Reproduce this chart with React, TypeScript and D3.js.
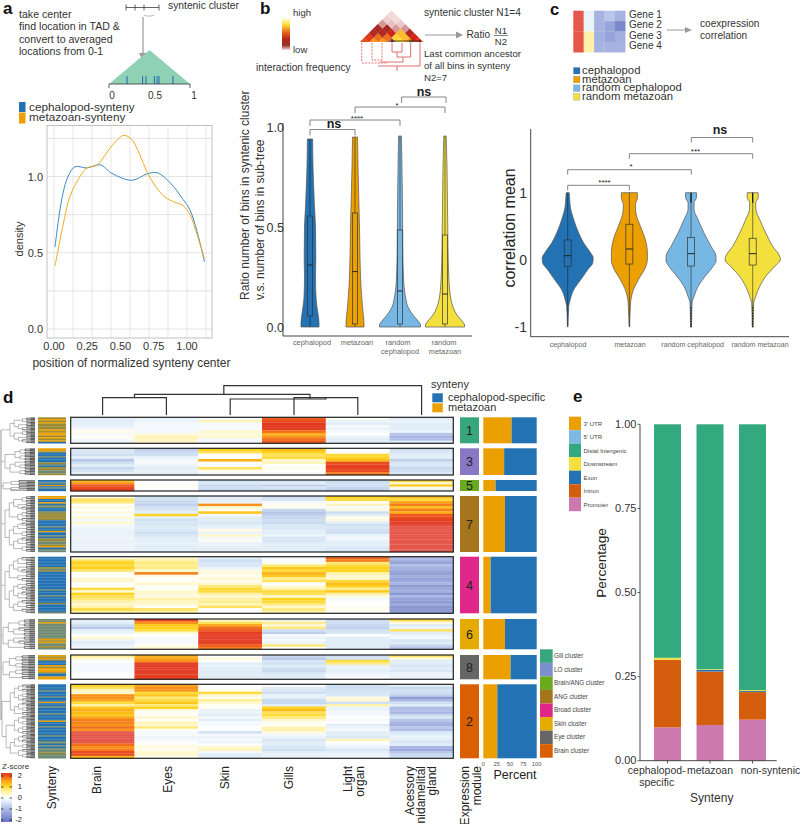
import React from "react";
import * as d3 from "d3";

const FONT = "'Liberation Sans', Arial, sans-serif";
const BLUE = "#2272B4";
const ORANGE = "#EBA000";
const LIGHTBLUE = "#77B7E3";
const YELLOW = "#F3E03D";

// panel a
const setupLines = ["take center", "find location in TAD &", "convert to averaged", "locations from 0-1"];
const tadBins = [0.222, 0.414, 0.457, 0.56, 0.593, 0.617, 0.79];
const densTicks = [0, 0.25, 0.5, 0.75, 1];
const densGridX = [0, 1 / 7, 2 / 7, 3 / 7, 4 / 7, 5 / 7, 6 / 7, 1, 8 / 7];
const densGridY = [0, 0.25, 0.5, 0.75, 1, 1.25];
const blueCurveX = [55, 59, 63, 68, 75, 87, 100, 112, 132, 147, 157, 170, 183, 190, 197, 204.5];
const blueCurveY = [0.537, 0.74, 0.89, 1.0, 1.064, 1.056, 1.077, 1.02, 0.975, 1.017, 1.025, 0.96, 0.85, 0.78, 0.64, 0.44];
const orangeCurveX = [55, 63, 70, 80, 87, 97, 105, 115, 124, 132, 140, 147, 155, 165, 175, 183, 190, 197, 204.5];
const orangeCurveY = [0.413, 0.68, 0.87, 1.0, 1.056, 1.075, 1.14, 1.225, 1.27, 1.24, 1.14, 1.03, 0.94, 0.865, 0.83, 0.81, 0.75, 0.62, 0.46];

// panel b
const interactionRows = [
  [0.55, 0.72, 0.72, 0.2, 0.98, 0.75, 0.5],
  [0.5, 0.62, 0.62, 0.95, 0.85, 0.45],
  [0.3, 0.3, 0.42, 0.85, 0.3],
  [0.25, 0.25, 0.14, 0.14],
  [0.14, 0.1, 0.08],
  [0.06, 0.03],
  [0.03],
];
const violinCats = ["cephalopod", "metazoan", "random cephalopod", "random metazoan"];
const violinColors = [BLUE, ORANGE, LIGHTBLUE, YELLOW];
const ratioShapes = [
  [[0, 9], [0.02, 9], [0.05, 8.5], [0.1, 7], [0.15, 6], [0.25, 5.5], [0.35, 5.8], [0.5, 5.5], [0.6, 4.5], [0.7, 3.7], [0.8, 3], [0.94, 2.6]],
  [[0, 9], [0.02, 9], [0.05, 8.5], [0.1, 7.5], [0.2, 6], [0.35, 5], [0.5, 4.5], [0.6, 4], [0.7, 3.5], [0.8, 3], [0.95, 2.5]],
  [[0, 20.5], [0.01, 20.5], [0.03, 18], [0.06, 13], [0.1, 8], [0.15, 5.5], [0.25, 3.5], [0.4, 2.8], [0.6, 2.5], [0.8, 2], [0.955, 1.4]],
  [[0, 19.5], [0.01, 19.5], [0.03, 17], [0.06, 12], [0.1, 8], [0.15, 5.5], [0.25, 3.8], [0.4, 3], [0.6, 2.5], [0.8, 2], [0.955, 1.2]],
];
const ratioBoxes = [
  [0.055, 0.31, 0.555],
  [0.015, 0.277, 0.57],
  [0.015, 0.18, 0.485],
  [0.015, 0.165, 0.46],
];

// panel c
const geneNames = ["Gene 1", "Gene 2", "Gene 3", "Gene 4"];
const geneZ = [
  [2.3, -0.2, -1.05, -0.8, -1.05],
  [2.3, -0.2, -1.05, -1.25, -1.7],
  [2.3, 0.5, -1.1, -1.3, -1.1],
  [2.3, 0.5, -1.05, -1.05, -1.05],
];
const corrShapes = [
  [[1, 1.5], [0.9, 2], [0.8, 2.5], [0.6, 6], [0.4, 11], [0.25, 16], [0.1, 23], [0.03, 25.5], [-0.05, 25], [-0.15, 20], [-0.3, 13], [-0.45, 6], [-0.6, 2.5], [-0.7, 1], [-1, 0.3]],
  [[1, 8], [0.92, 8], [0.82, 6], [0.7, 6.5], [0.5, 11], [0.3, 16], [0.1, 18], [0, 18], [-0.1, 16.5], [-0.3, 9], [-0.45, 4], [-0.6, 1.5], [-0.7, 1], [-1, 0.3]],
  [[1, 5.5], [0.93, 5.5], [0.85, 3], [0.75, 3], [0.6, 7], [0.4, 13], [0.2, 20], [0.05, 25], [-0.02, 25], [-0.1, 22], [-0.25, 14], [-0.4, 7], [-0.55, 3], [-0.65, 1], [-1, 0.5]],
  [[1, 5.5], [0.93, 5.5], [0.85, 3], [0.75, 3.2], [0.6, 7], [0.4, 13], [0.2, 20], [0.05, 27], [0, 27.7], [-0.1, 22], [-0.25, 13], [-0.4, 7], [-0.55, 3], [-0.65, 1], [-1, 0.5]],
];
const corrBoxes = [
  [-0.1, 0.06, 0.295],
  [-0.065, 0.16, 0.53],
  [-0.095, 0.09, 0.33],
  [-0.08, 0.09, 0.32],
];
const corrOutliers = [-0.72, -0.76, -0.8, -0.84, -0.88, -0.92, -0.96, -1];

// panel d: z-score colours, one list of stripes per tissue per block
const zStops = [-2, -1, -0.5, -0.2, 0, 0.3, 0.7, 1, 1.4, 1.8, 2.05, 2.3];
const zColors = ["#6676BE", "#A9B6E3", "#CFE0F2", "#EAF3FA", "#FFFFFF", "#FFF8CF", "#FFE97A", "#FFD21E", "#FBA41A", "#EE5A1E", "#E2381F", "#E5574A"];
const zColor = d3.scaleLinear<string>().domain(zStops).range(zColors).clamp(true);
const tissues = ["Brain", "Eyes", "Skin", "Gills", "Light organ", "ANG"];

const block1 = [
  [-0.3, -0.3, -0.3, -0.2, -0.1, 0.15, -0.1, 0.1, -0.1, -0.2],
  [-0.2, -0.2, -0.1, -0.1, -0.1, -0.1, 0.2, 0.4, 0.4, 0.3],
  [-0.1, 0.4, -0.1, -0.1, -0.1, 0.3, 0.2, 0.3, -0.1, -0.1],
  [1.8, 1.9, 2.05, 2.05, 2, 1.7, 1.3, 1.5, 1.7, 1.8],
  [0.1, -0.2, -0.3, -0.1, -0.2, -0.1, 0, -0.2, -0.3, -0.3],
  [-0.3, -0.2, -0.3, -0.3, -0.3, -0.2, -0.8, -1, -0.9, -0.3],
];
const block3 = [
  [-0.4, -0.4, -0.5, -0.3, -0.8, -0.5, -0.3, -0.6, -0.4, -0.3],
  [-0.7, -0.6, -0.5, -0.2, -0.1, -0.1, -0.2, -0.3, -0.2, -0.3],
  [1, 0.8, 0, 0, 1.3, -0.05, -0.1, 0.8, 0.1, -0.1],
  [1.2, 1, 0.8, 0.9, 0.3, 0.4, 0, 0.1, 0, -0.1],
  [0, 0, 0.9, 1, 1.2, 1.9, 2, 2, 1.9, 1.6],
  [-0.5, -0.4, -0.3, -0.3, -0.7, -0.4, -0.4, -0.6, -0.5, -0.4],
];
const block5 = [
  [1.2, 1.5, 1.8, 1.9, 2.0],
  [0, 0, 0.1, 0, -0.05],
  [-0.5, -0.4, -0.6, -0.5, -0.6],
  [-0.5, -0.3, -0.7, -0.4, -0.6],
  [-0.6, -0.5, -0.5, -0.6, -0.7],
  [0.9, 0.3, 1.1, 0.2, -0.2],
];
const block7 = [
  [0.2, 0.8, 0.7, 0.05, 0.2, 0.05, 0.2, -0.05, 0.3, -0.1, 0.3, -0.1, -0.15, -0.2, -0.2, -0.2, -0.15, -0.2, -0.2, -0.2, -0.2, -0.2],
  [-0.5, -0.5, -0.6, -0.7, -0.5, -0.4, -0.3, 1, -0.3, -0.5, -0.4, -0.4, -0.3, -0.4, -0.5, -0.4, -0.3, -0.3, -0.2, -0.3, -0.3, -0.3],
  [-0.3, -0.3, -0.2, 1.5, 0.3, 0.1, 1.1, -0.1, -0.3, -0.3, -0.4, -0.3, -0.2, 0.2, -0.2, 0.3, -0.1, 0.1, -0.2, -0.2, -0.3, -0.3],
  [-0.5, -0.4, -0.1, 0.1, 0.1, -0.6, -0.8, -0.7, -0.6, -0.5, -0.6, -0.4, -0.4, -0.3, -0.3, -0.2, -0.4, -0.4, -0.3, -0.3, -0.3, -0.3],
  [1, 0.9, 0.1, 0.4, -0.1, 0.2, -0.5, -0.3, 0.1, 0.2, -0.3, -0.5, -0.4, -0.5, -0.5, -0.2, -0.1, -0.2, -0.3, -0.3, -0.4, -0.4],
  [1.2, 0.9, 1.4, 1.6, 1.2, 1.6, 1.3, 1.8, 1.9, 2, 2.1, 2.2, 2.3, 2.3, 2.3, 2.3, 2.3, 2.3, 2.3, 2.3, 2.3, 2.3],
];
const block4 = [
  [0.1, 0.8, 1, 0.9, 1, 0.7, 0.05, 0, 0.3, 0.3, 0, 0, 0.9, 0.3, 1, 0.8, 0.7, 0.5, 0.3, 0.5, 0.9, 0.5],
  [0.3, 0.5, 0.7, 0.6, 0.6, 0.3, 1.6, 0.2, 0, 0.1, 0.3, 0.1, -0.05, 0.3, 0.3, 0.2, 0.5, 0.4, 0.3, 0.1, 0.8, 0.5],
  [-0.3, -0.5, -0.4, -0.4, -0.2, 0.2, 0.2, 0.1, 0.3, 0.1, 0.3, 0.7, 0.9, 0.9, 0.5, 0.3, 0.5, 0.6, 0.4, 0.8, 0, 0],
  [-0.1, -0.05, 0.1, 0.7, 1.1, 0.9, 1.3, 1.1, 0.6, 0.8, 0, 0.2, 0.5, 0.9, 0.8, 0.3, 1, 0.9, 0.7, 0.3, 0.7, 0.5],
  [1.7, 1.6, 0.7, 0.9, 1, 1, 0.5, 0.3, 0.3, 0.9, 1.2, 1, 0.6, 1.1, 0.5, 0.2, -0.1, 0, 0, 0.1, 0.1, 0],
  [-1, -1.1, -1.3, -0.9, -1.1, -1.2, -1.4, -1.1, -1.3, -1.2, -1, -1.4, -1.2, -1.1, -1.5, -1, -1.3, -1.4, -1.2, -1.5, -1.5, -1.4],
];
const block6 = [
  [-0.3, -0.3, -0.5, -0.8, -0.3, -0.2, 0, 0.3, -0.2, -0.3, -0.2, -0.1],
  [2, 1.5, 1.1, 1, 0.9, 0.3, 0, -0.1, -0.1, -0.1, 0.1, 0.3],
  [0.3, 0.8, 1.4, 1.7, 1.8, 2, 2.1, 2.1, 2.1, 2, 1.8, 1.6],
  [-0.2, 0.6, 0.3, 0.7, -0.5, -0.7, -0.1, -0.2, -0.1, -0.2, 0.7, 0],
  [-0.6, -0.5, -0.6, -0.7, -0.5, -0.4, 0, -0.3, -0.3, -0.3, -0.3, -0.3],
  [0.9, 0.2, -0.3, -0.2, 0.8, -0.3, -0.2, -0.1, -0.4, -0.3, -0.6, -0.8],
];
const block8 = [
  [0.6, 0.3, -0.05, -0.1, -0.1, -0.1, -0.1, -0.05, 0, 0],
  [1.3, 1.4, 1.5, 2, 2.1, 2.1, 2.1, 2.1, 2, 2],
  [0, 0.2, 0, -0.3, -0.2, -0.3, -0.3, -0.3, -0.3, -0.3],
  [-0.6, -0.8, -0.4, -0.5, -0.3, -0.5, -0.6, -0.4, -0.3, -0.3],
  [-0.5, -0.5, 0.9, 0.7, -0.2, -0.2, -0.3, -0.2, -0.1, -0.1],
  [0.8, 0.2, -0.3, -0.3, -0.4, -0.3, -0.4, -0.2, -0.2, -0.2],
];
const block2 = [
  [1, 0.8, 0.4, 0.3, 1.5, 1.5, 1.4, 0.9, 0.5, 1.1, 1.3, 1.2, 1.1, 1.4, 1.6, 1.6, 1.5, 1.7, 1.5, 2.3, 2.3, 2.3, 2.3, 2.3, 1.7, 1.5, 1.6, 1.9, 1.9, 1.2],
  [1.4, 1.5, 1.5, 0.9, 1.1, 0.7, 0.9, 1.1, 0.7, 1, 0.2, 0.05, 0.1, 0.3, 0.05, 0.4, 0.3, 0.7, 0.1, -0.1, -0.1, -0.2, -0.1, -0.05, 0.1, 0.2, 0.1, 0.3, 0.3, 0.1],
  [0, 0.05, 0.1, 0.9, 0.3, 0.1, 0.6, 0.3, 0.1, 0.05, -0.2, -0.2, -0.3, -0.1, -0.3, -0.1, -0.1, -0.05, -0.05, -0.5, -0.1, -0.2, -0.1, -0.2, 0, 0.3, 0.4, -0.1, -0.3, -0.3],
  [0, -0.3, -0.4, -0.5, -0.2, -0.3, -0.6, -0.6, -0.3, 1, 1.2, 0.8, 0.9, 0.7, 0.3, 0.1, 0.05, 0.4, 0.5, 0.2, -0.1, -0.2, -0.4, -0.3, -0.3, -0.4, -0.5, -0.3, -0.2, -0.2],
  [-0.5, -0.5, -0.5, -0.4, -0.4, 0.2, 0.3, -0.5, 0.5, -0.2, -0.2, -0.1, -0.1, 0, -0.1, 0, -0.3, -0.2, -0.1, -0.3, -0.3, -0.4, 0.4, 0, -0.1, -0.2, -0.4, -0.3, -0.2, -0.1],
  [-0.3, -0.6, -0.5, -0.5, -0.7, -1.4, -1, -0.5, -0.3, -0.9, -0.9, -1, -0.6, -0.4, -0.8, -1, -1.1, -0.8, -0.9, -0.4, -0.3, -0.2, -0.3, -0.4, -0.3, -1, -1.2, -0.8, -0.6, -0.5],
];

const synteny1 = "yoyoyyyyoyooyoyob";
const synteny3 = "oogbbgbbbygbyyggy";
const synteny5 = "bbgbobgbb";
const synteny7 = "oobbobggbbgyyyyybbbbgbbobbgbyyggyobgg";
const synteny4 = "bbbbbbbygybbbbbbbbbbbbgbbbgbbbbybbbbbg";
const synteny6 = "ggoggggggggggoyoggyg";
const synteny8 = "oyoybbboyoooybboo";
const synteny2 = "bbbbgbbbgbbbobbgbbbbgbbbbobbbgbbbbbgbbbggbgbgggyggg";

const tree1 = [[[4, 3], [4, [3, 2]]], [[3, 3], [4, [2, 3]]]];
const tree3 = [[[4, 4], [3, 4]], [[4, [3, 3]], [4, 3]]];
const tree5 = [[3, 3], [3, 2]];
const tree7 = [[[[4, 4], [4, 5]], [[4, 4], 5]], [[[5, 4], [4, 4]], [[5, 4], [4, 4]]]];
const tree4 = [[[[5, 4], [4, 5]], [4, 5]], [[[4, 5], [5, 4]], [[5, 4], 5]]];
const tree6 = [[[4, 4], [5, 4]], [[4, 5], 4]];
const tree8 = [[[4, 3], [4, 3]], [[3, 4], 4]];
const tree2 = [[[[5, 5], [6, 5]], [[5, 6], 5]], [[[5, 6], [6, 5]], [[[5, 5], 6], [5, 6]]]];

const moduleNames = ["1", "3", "5", "7", "4", "6", "8", "2"];
const moduleColors = ["#37A67C", "#8877C4", "#6AAA1E", "#A6761D", "#E0288A", "#E6AB02", "#666666", "#D95F02"];
const metazoanPercent = [53, 39, 23, 40.6, 13.75, 40.6, 51, 26.25];
const blockTops = [417.3, 448.3, 480, 496, 556.7, 619, 655, 684.3];
const blockBottoms = [443.3, 475, 491, 552, 613.3, 649.3, 679.3, 758.3];
const treeRoots = [10, 5, 3, 5, 5, 3, 3, 2];
const blockData = [block1, block3, block5, block7, block4, block6, block8, block2];
const syntenyData = [synteny1, synteny3, synteny5, synteny7, synteny4, synteny6, synteny8, synteny2];
const treeData = [tree1, tree3, tree5, tree7, tree4, tree6, tree8, tree2];
const syntenyColors: Record<string, string> = { b: BLUE, o: ORANGE, y: "#9A8A35", g: "#6E8A72" };
const clusterNames = ["Gill cluster", "LO cluster", "Brain/ANG cluster", "ANG cluster", "Broad cluster", "Skin cluster", "Eye cluster", "Brain cluster"];
const clusterColors = ["#37A67C", "#7C8FCF", "#6AAA1E", "#A6761D", "#E0288A", "#E6AB02", "#666666", "#D95F02"];
const percentTicks = [0, 25, 50, 75, 100];
const zLabels = [2, 1, 0, -1, -2];
// column dendrogram merges: left, right (in column units), height, left drop, right drop
const columnMerges = [
  [0, 1, 397.7, 415, 415],
  [3, 4, 397.7, 415, 415],
  [2, 3.5, 399, 415, 397.7],
  [0.5, 3.25, 394.3, 397.7, 399],
  [1.9, 5, 385.7, 394.3, 415],
];
const rotatedLabels = [
  { lines: ["Synteny"], xs: [52] },
  { lines: ["Brain"], xs: [97] },
  { lines: ["Eyes"], xs: [168] },
  { lines: ["Skin"], xs: [225] },
  { lines: ["Gills"], xs: [289] },
  { lines: ["Light", "organ"], xs: [348, 360] },
  { lines: ["Acessory", "nidamelital", "gland"], xs: [410, 421, 432] },
  { lines: ["Expression", "module"], xs: [465, 477] },
];

// panel e
const annotationNames = ["3' UTR", "5' UTR", "Distal Intergenic", "Downstream", "Exon", "Intron", "Promoter"];
const annotationColors = [ORANGE, "#7DB9E3", "#32A97E", YELLOW, BLUE, "#D55E0E", "#CC79B0"];
const syntenyCats = ["cephalopod-specific", "metazoan", "non-syntenic"];
const promoter = [0.099, 0.106, 0.122];
const intron = [0.201, 0.159, 0.082];
const exon = [0, 0.005, 0.003];
const downstream = [0.006, 0.002, 0.003];
const distal = [0.694, 0.728, 0.79];
const shareTicks = [0, 0.25, 0.5, 0.75, 1];

const densX = d3.scaleLinear().domain([0, 1]).range([54, 187]);
const densY = d3.scaleLinear().domain([0, 1]).range([329, 176.5]);
const tadX = d3.scaleLinear().domain([0, 1]).range([109, 190]);
const ratioX = d3.scalePoint<string>().domain(violinCats).range([310, 445]);
const ratioY = d3.scaleLinear().domain([0, 1]).range([327, 127]);
const corrX = d3.scalePoint<string>().domain(violinCats).range([567.7, 752.7]);
const corrY = d3.scaleLinear().domain([-1, 1]).range([326.7, 192.7]);
const colX = d3.scaleBand<string>().domain(tissues).range([70.7, 453.3]);
const colCenter = d3.scaleLinear().domain([0, 5]).range([102.6, 421.6]);
const pctX = d3.scaleLinear().domain([0, 100]).range([483.3, 536.7]);
const shareX = d3.scaleBand<string>().domain(syntenyCats).range([654, 766]).paddingInner(0.365);
const shareY = d3.scaleLinear().domain([0, 1]).range([760.7, 424.3]);

const Txt = ({ x, y, size = 9, anchor = "start", fill = "#333", weight = "normal", rotate, children }: any) => (
  <text
    x={x}
    y={y}
    fontSize={size}
    textAnchor={anchor}
    fill={fill}
    fontWeight={weight}
    transform={rotate ? `rotate(${rotate} ${x} ${y})` : undefined}
  >
    {children}
  </text>
);

const Bracket = ({ x1, x2, y, drop = 5, label, labelX, labelY, bold }: any) => (
  <g>
    <path d={`M${x1},${y + drop}V${y}H${x2}V${y + drop}`} fill="none" stroke="#777" strokeWidth={0.9} />
    <Txt x={labelX} y={labelY} anchor="middle" size={bold ? 12.5 : 8} weight={bold ? "bold" : "normal"} fill="#222">
      {label}
    </Txt>
  </g>
);

const Violins = ({ shapes, boxes, xScale, yScale, boxHalf }: any) => (
  <g>
    {violinCats.map((cat, i) => {
      const cx = xScale(cat);
      const area = d3
        .area<number[]>()
        .y((d) => yScale(d[0]))
        .x0((d) => cx - d[1])
        .x1((d) => cx + d[1])
        .curve(d3.curveMonotoneY);
      const sorted = [...shapes[i]].sort((a: number[], b: number[]) => a[0] - b[0]);
      const [q1, med, q3] = boxes[i];
      const top = sorted[sorted.length - 1][0];
      const bottom = sorted[0][0];
      return (
        <g key={cat}>
          <path d={area(sorted) || ""} fill={violinColors[i]} stroke="#555" strokeWidth={0.7} />
          <line x1={cx} x2={cx} y1={yScale(top)} y2={yScale(bottom)} stroke="#222" strokeWidth={0.7} strokeOpacity={0.8} />
          <rect
            x={cx - boxHalf}
            width={boxHalf * 2}
            y={yScale(q3)}
            height={yScale(q1) - yScale(q3)}
            fill={violinColors[i]}
            stroke="#333"
            strokeWidth={0.7}
          />
          <line x1={cx - boxHalf} x2={cx + boxHalf} y1={yScale(med)} y2={yScale(med)} stroke="#222" strokeWidth={1} />
        </g>
      );
    })}
  </g>
);

const expand = (t: any): any => {
  if (Array.isArray(t)) return { children: t.map(expand) };
  if (t <= 1) return {};
  const half = Math.floor(t / 2);
  return { children: [expand(half), expand(t - half)] };
};

const Dendro = ({ tree, top, bottom, rootX }: any) => {
  const root = d3.hierarchy(expand(tree));
  d3.cluster().size([bottom - top, 35 - rootX])(root as any);
  const px = (n: any) => rootX + n.y;
  const py = (n: any) => top + n.x;
  return (
    <g fill="none">
      {root.links().map((l: any, i: number) => (
        <path
          key={i}
          d={`M${px(l.source)},${py(l.source)}V${py(l.target)}H${px(l.target)}`}
          stroke={l.target.height < 2 ? "#333" : "#8A8A8A"}
          strokeWidth={l.target.height < 2 ? 0.7 : 0.6}
        />
      ))}
      <line x1={1} x2={rootX} y1={py(root)} y2={py(root)} stroke="#999" strokeWidth={0.6} />
    </g>
  );
};

const PanelA = () => {
  const blueLine = d3
    .line<number>()
    .x((d) => d)
    .y((_, i) => densY(blueCurveY[i]))
    .curve(d3.curveCatmullRom);
  const orangeLine = d3
    .line<number>()
    .x((d) => d)
    .y((_, i) => densY(orangeCurveY[i]))
    .curve(d3.curveCatmullRom);
  return (
    <g>
      <Txt x={3} y={14} size={17} weight="bold" fill="#111">a</Txt>
      {setupLines.map((t, i) => (
        <Txt key={t} x={19} y={18 + i * 12.4} size={10.6}>{t}</Txt>
      ))}
      <path d="M126,7.5H159M126,4.5V10.5M135,4.5V10.5M144,4.5V10.5M159,4.5V10.5" stroke="#222" strokeWidth={0.7} fill="none" />
      <path d="M144,14.5Q144,16 147,16H151Q154,16 154,14.5" stroke="#888" strokeWidth={0.6} fill="none" />
      <Txt x={168} y={9} size={10.3}>syntenic cluster</Txt>
      <line x1={143} x2={143} y1={17} y2={54} stroke="#999" strokeWidth={1.2} />
      <path d="M139,53H147L143,61Z" fill="#999" />
      <path d={`M${tadX(0)},84L${tadX(0.5)},50L${tadX(1)},84Z`} fill="#8FD1B5" />
      {tadBins.map((b) => (
        <line key={b} x1={tadX(b)} x2={tadX(b)} y1={76} y2={84} stroke={BLUE} strokeWidth={1.1} />
      ))}
      <line x1={tadX(0)} x2={tadX(1)} y1={84} y2={84} stroke="#333" strokeWidth={0.8} />
      {[0, 1].map((v) => (
        <line key={v} x1={tadX(v)} x2={tadX(v)} y1={84} y2={88} stroke="#333" strokeWidth={0.8} />
      ))}
      <Txt x={112} y={99} size={10} anchor="middle">0</Txt>
      <Txt x={155} y={99} size={10} anchor="middle">0.5</Txt>
      <Txt x={194} y={99} size={10} anchor="middle">1</Txt>
      <rect x={19} y={102} width={6.5} height={10} fill={BLUE} />
      <rect x={19} y={112.5} width={6.5} height={11} fill={ORANGE} />
      <Txt x={29} y={111} size={11.8}>cephalopod-synteny</Txt>
      <Txt x={29} y={121} size={11.8}>metazoan-synteny</Txt>

      {densGridX.map((v) => (
        <line key={v} x1={densX(v)} x2={densX(v)} y1={125} y2={338} stroke="#DDD" strokeWidth={0.7} />
      ))}
      {densGridY.map((v) => (
        <line key={v} x1={47} x2={212} y1={densY(v)} y2={densY(v)} stroke="#D8D8D8" strokeWidth={0.7} />
      ))}
      <rect x={47} y={125.5} width={165} height={212.5} fill="none" stroke="#BBB" strokeWidth={0.9} />
      <path d={blueLine(blueCurveX) || ""} fill="none" stroke="#3B8BC8" strokeWidth={1} />
      <path d={orangeLine(orangeCurveX) || ""} fill="none" stroke="#F0AC1C" strokeWidth={1} />
      {[0, 0.5, 1].map((v) => (
        <Txt key={v} x={43} y={densY(v) + 4} size={11} anchor="end">{v.toFixed(1)}</Txt>
      ))}
      {densTicks.map((v) => (
        <Txt key={v} x={densX(v)} y={350} size={11} anchor="middle">{v.toFixed(2)}</Txt>
      ))}
      <Txt x={22.5} y={239} size={11} anchor="middle" rotate={-90}>density</Txt>
      <Txt x={131.5} y={367} size={12} anchor="middle">position of normalized synteny center</Txt>
    </g>
  );
};

const PanelB = () => {
  const heatColor = d3
    .scaleLinear<string>()
    .domain([0, 0.1, 0.25, 0.45, 0.7, 1])
    .range(["#F7E4E4", "#E8BFC0", "#A62A22", "#D8231A", "#F7941D", "#FFE23A"]);
  const w = 9;
  return (
    <g>
      <Txt x={260} y={14} size={17} weight="bold" fill="#111">b</Txt>
      <defs>
        <linearGradient id="ifGrad" x1="0" x2="0" y1="0" y2="1">
          <stop offset="0" stopColor="#FFFDE0" />
          <stop offset="0.2" stopColor="#FFE23A" />
          <stop offset="0.45" stopColor="#E8641A" />
          <stop offset="0.65" stopColor="#B5281C" />
          <stop offset="0.85" stopColor="#93302A" />
          <stop offset="1" stopColor="#F5DCDC" />
        </linearGradient>
        <clipPath id="triClip">
          <rect x={355} y={0} width={75} height={42} />
        </clipPath>
      </defs>
      <rect x={282} y={18} width={8} height={32} fill="url(#ifGrad)" />
      <Txt x={293} y={16} size={9.5}>high</Txt>
      <Txt x={293} y={53} size={9.5}>low</Txt>
      <Txt x={256} y={71} size={10.2}>interaction frequency</Txt>
      <g clipPath="url(#triClip)">
        {interactionRows.map((row, k) =>
          row.map((v, i) => {
            const cx = 360 + (i + 0.5) * w + (k * w) / 2;
            const cy = 42 - (k * w) / 2;
            return (
              <path key={`${k}-${i}`} d={`M${cx - w / 2},${cy}L${cx},${cy - w / 2}L${cx + w / 2},${cy}L${cx},${cy + w / 2}Z`} fill={heatColor(v)} stroke={heatColor(v)} strokeWidth={0.3} />
            );
          })
        )}
      </g>
      <path d="M361.7,43V62M372,43V60H382M382,43V60M362,63H388" fill="none" stroke="#D9534F" strokeWidth={0.8} strokeDasharray="2 1.2" />
      <path d="M392,43V52H402V43M397,52V57H410.7M410.7,43V57M403,57V62H380M420,43V66H378M397,66V71" fill="none" stroke="#D9605C" strokeWidth={0.9} />
      <path d="M391,41H421M392,39.5V42.5M410,39.5V42.5M412,39.5V42.5M420,39.5V42.5" fill="none" stroke="#111" strokeWidth={0.7} />
      <line x1={425} x2={457} y1={35} y2={35} stroke="#999" strokeWidth={1} />
      <path d="M456,31.5L463,35L456,38.5Z" fill="#999" />
      <Txt x={424} y={15.5} size={10.1}>syntenic cluster N1=4</Txt>
      <Txt x={466.5} y={38} size={10.1}>Ratio</Txt>
      <Txt x={501} y={33.5} size={9.6} anchor="middle">N1</Txt>
      <line x1={494} x2={508} y1={35.5} y2={35.5} stroke="#333" strokeWidth={0.6} />
      <Txt x={501} y={44.5} size={9.6} anchor="middle">N2</Txt>
      <Txt x={424} y={57} size={9.6}>Last common ancestor</Txt>
      <Txt x={424} y={69} size={9.6}>of all bins in synteny</Txt>
      <Txt x={424} y={81} size={9.6}>N2=7</Txt>

      <Bracket x1={401.7} x2={446} y={97} drop={6} label="ns" labelX={424} labelY={96} bold />
      <Bracket x1={355} x2={445} y={107} drop={6} label="*" labelX={397} labelY={107.5} />
      <Bracket x1={310} x2={400} y={120} drop={6} label="****" labelX={357} labelY={120.5} />
      <Bracket x1={310} x2={355} y={129.5} drop={6} label="ns" labelX={334} labelY={128} bold />

      <Violins shapes={ratioShapes} boxes={ratioBoxes} xScale={ratioX} yScale={ratioY} boxHalf={2.6} />
      <path d="M283,123V336H472" fill="none" stroke="#333" strokeWidth={0.9} />
      {[0, 0.5, 1].map((v) => (
        <Txt key={v} x={284} y={ratioY(v) + 4.5} size={12.5} anchor="end">{v.toFixed(1)}</Txt>
      ))}
      <Txt x={249} y={300} size={12} rotate={-90}>Ratio number of bins in syntenic cluster</Txt>
      <Txt x={264} y={300} size={12} rotate={-90}>v.s. number of bins in sub-tree</Txt>
      <Txt x={312} y={345} size={7.4} anchor="middle" fill="#666">cephalopod</Txt>
      <Txt x={357} y={345} size={7.4} anchor="middle" fill="#666">metazoan</Txt>
      <Txt x={398} y={345} size={7.4} anchor="middle" fill="#666">random</Txt>
      <Txt x={400} y={354} size={7.4} anchor="middle" fill="#666">cephalopod</Txt>
      <Txt x={444} y={345} size={7.4} anchor="middle" fill="#666">random</Txt>
      <Txt x={445} y={354} size={7.4} anchor="middle" fill="#666">metazoan</Txt>
    </g>
  );
};

const PanelC = () => {
  const gx = d3.scaleBand<number>().domain([0, 1, 2, 3, 4]).range([573.3, 625.3]);
  const gy = d3.scaleBand<number>().domain([0, 1, 2, 3]).range([10.7, 52.3]);
  const labelXs = [568, 630, 692.7, 760];
  return (
    <g>
      <Txt x={550} y={15} size={16.5} weight="bold" fill="#111">c</Txt>
      {geneZ.map((row, r) =>
        row.map((z, c) => (
          <rect key={`${r}-${c}`} x={gx(c)} y={gy(r)} width={gx.bandwidth() + 0.2} height={gy.bandwidth() + 0.2} fill={zColor(z)} />
        ))
      )}
      {geneNames.map((g, i) => (
        <Txt key={g} x={629} y={17.7 + i * 10.5} size={10}>{g}</Txt>
      ))}
      <line x1={667} x2={686} y1={30} y2={30} stroke="#999" strokeWidth={1} />
      <path d="M685,27L692,30L685,33Z" fill="#999" />
      <Txt x={700} y={27} size={10.1}>coexpression</Txt>
      <Txt x={700} y={39} size={10.1}>correlation</Txt>
      {violinCats.map((c, i) => (
        <g key={c}>
          <rect x={573.5} y={67.5 + i * 8.7} width={6.5} height={6.5} fill={violinColors[i]} stroke="#888" strokeWidth={0.3} />
          <Txt x={582} y={74 + i * 8.6} size={11.3}>{c}</Txt>
        </g>
      ))}
      <Bracket x1={691.3} x2={752.7} y={137.5} drop={5} label="ns" labelX={720} labelY={134} bold />
      <Bracket x1={629.3} x2={752.7} y={153.7} drop={5} label="***" labelX={695.5} labelY={154} />
      <Bracket x1={567.7} x2={691.3} y={169.7} drop={5} label="*" labelX={631} labelY={169} />
      <Bracket x1={567.7} x2={629.3} y={185.3} drop={5} label="****" labelX={604.5} labelY={185} />
      <Violins shapes={corrShapes} boxes={corrBoxes} xScale={corrX} yScale={corrY} boxHalf={3.5} />
      {violinCats.slice(2).map((c) => (
        <g key={c}>
          <line x1={corrX(c)} x2={corrX(c)} y1={corrY(1)} y2={corrY(0.85)} stroke="#111" strokeWidth={1.2} />
          {corrOutliers.map((o) => (
            <circle key={o} cx={corrX(c)} cy={corrY(o)} r={0.7} fill="#111" />
          ))}
        </g>
      ))}
      <path d="M530.7,129V336.7H789" fill="none" stroke="#333" strokeWidth={0.9} />
      {[1, 0, -1].map((v) => (
        <Txt key={v} x={527} y={corrY(v) + 5} size={14} anchor="end">{v}</Txt>
      ))}
      <Txt x={515} y={228} size={16} anchor="middle" rotate={-90} fill="#222">correlation mean</Txt>
      {violinCats.map((c, i) => (
        <Txt key={c} x={labelXs[i]} y={346.5} size={7.1} anchor="middle" fill="#666">{c}</Txt>
      ))}
    </g>
  );
};

const PanelD = () => (
  <g>
    <Txt x={3} y={403} size={17} weight="bold" fill="#111">d</Txt>
    {columnMerges.map(([a, b, y, d1, d2], i) => (
      <path
        key={i}
        d={`M${colCenter(a)},${d1}V${y}H${colCenter(b)}V${d2}`}
        fill="none"
        stroke="#333"
        strokeWidth={1.2}
      />
    ))}
    <Txt x={431} y={388} size={11}>synteny</Txt>
    <rect x={432.3} y={393.3} width={10.5} height={9} fill={BLUE} />
    <rect x={432.3} y={403.3} width={10.5} height={9} fill={ORANGE} />
    <Txt x={448} y={401} size={11}>cephalopod-specific</Txt>
    <Txt x={448} y={410.5} size={11}>metazoan</Txt>

    <line x1={1} x2={1} y1={430} y2={720} stroke="#888" strokeWidth={0.9} />
    {blockData.map((rows, b) => {
      const top = blockTops[b];
      const bottom = blockBottoms[b];
      const rowY = d3.scaleBand<number>().domain(d3.range(rows[0].length)).range([top, bottom]);
      const syn = syntenyData[b].split("");
      const synY = d3.scaleBand<number>().domain(d3.range(syn.length)).range([top, bottom]);
      return (
        <g key={b}>
          <Dendro tree={treeData[b]} top={top} bottom={bottom} rootX={treeRoots[b]} />
          {syn.map((s, i) => (
            <rect key={i} x={38} width={28} y={synY(i)} height={synY.bandwidth() + 0.2} fill={syntenyColors[s]} />
          ))}
          {rows.map((col, c) =>
            col.map((z, r) => (
              <rect
                key={`${c}-${r}`}
                x={colX(tissues[c])}
                width={colX.bandwidth() + 0.2}
                y={rowY(r)}
                height={rowY.bandwidth() + 0.2}
                fill={zColor(z)}
              />
            ))
          )}
          <rect x={70.7} y={top} width={382.6} height={bottom - top} fill="none" stroke="#222" strokeWidth={1.2} />
          <rect x={460} y={top} width={19} height={bottom - top} fill={moduleColors[b]} />
          <Txt x={469.5} y={(top + bottom) / 2 + 4.5} size={12.5} anchor="middle" fill="#222">{moduleNames[b]}</Txt>
          <rect x={pctX(0)} y={top} width={pctX(metazoanPercent[b]) - pctX(0)} height={bottom - top} fill={ORANGE} />
          <rect x={pctX(metazoanPercent[b])} y={top} width={pctX(100) - pctX(metazoanPercent[b])} height={bottom - top} fill={BLUE} />
        </g>
      );
    })}
    {percentTicks.map((v) => (
      <Txt key={v} x={pctX(v)} y={765.5} size={5.8} anchor="middle" fill="#555">{v}</Txt>
    ))}
    <Txt x={515} y={778.5} size={12.5} anchor="middle" fill="#222">Percent</Txt>
    {clusterNames.map((n, i) => (
      <g key={n}>
        <rect x={540} y={649.3 + i * 13.55} width={12.7} height={13.55} fill={clusterColors[i]} />
        <Txt x={554} y={658 + i * 13.5} size={6.3} fill="#444">{n}</Txt>
      </g>
    ))}
    {rotatedLabels.map((lab) =>
      lab.lines.map((line, i) => (
        <Txt key={line} x={lab.xs[i] + 4} y={766} size={12} anchor="end" rotate={-90} fill="#222">{line}</Txt>
      ))
    )}
    <Txt x={2} y={769} size={8}>Z-score</Txt>
    <defs>
      <linearGradient id="zGrad" x1="0" x2="0" y1="0" y2="1">
        {[2.05, 1.8, 1.4, 1, 0.7, 0.3, 0, -0.2, -0.5, -1, -2].map((z) => (
          <stop key={z} offset={(2.05 - z) / 4.05} stopColor={zColor(z)} />
        ))}
      </linearGradient>
    </defs>
    <rect x={1} y={773} width={11} height={49} fill="url(#zGrad)" />
    {zLabels.map((v, i) => (
      <g key={v}>
        <path d={`M1,${776 + i * 11}h2.5M9.5,${776 + i * 11}h2.5`} stroke="#111" strokeWidth={0.7} />
        <Txt x={22} y={778 + i * 11} size={7.5} anchor="end" fill="#222">{v}</Txt>
      </g>
    ))}
  </g>
);

const PanelE = () => {
  const rows = syntenyCats.map((cat, i) => ({
    cat,
    Promoter: promoter[i],
    Intron: intron[i],
    Exon: exon[i],
    Downstream: downstream[i],
    "Distal Intergenic": distal[i],
  }));
  const keys = ["Promoter", "Intron", "Exon", "Downstream", "Distal Intergenic"];
  const stacked = d3.stack<any>().keys(keys)(rows);
  return (
    <g>
      <Txt x={573} y={402} size={17} weight="bold" fill="#111">e</Txt>
      {annotationNames.map((n, i) => (
        <g key={n}>
          <rect x={569} y={416.7 + i * 13.5} width={12} height={13.5} fill={annotationColors[i]} />
          <Txt x={583.5} y={425.5 + i * 13.5} size={6} fill="#444">{n}</Txt>
        </g>
      ))}
      {stacked.map((s) => (
        <g key={s.key} fill={annotationColors[annotationNames.indexOf(s.key)]}>
          {s.map((d: any) => (
            <rect
              key={d.data.cat}
              x={shareX(d.data.cat)}
              width={shareX.bandwidth()}
              y={shareY(d[1])}
              height={shareY(d[0]) - shareY(d[1])}
            />
          ))}
        </g>
      ))}
      <path d="M640,424.3V760.7H776.7" fill="none" stroke="#333" strokeWidth={0.9} />
      {shareTicks.map((v) => (
        <g key={v}>
          <line x1={637.5} x2={640} y1={shareY(v)} y2={shareY(v)} stroke="#333" strokeWidth={0.8} />
          <Txt x={636.5} y={shareY(v) + 3.5} size={11} anchor="end">{v.toFixed(2)}</Txt>
        </g>
      ))}
      {syntenyCats.map((c) => (
        <line key={c} x1={shareX(c)! + shareX.bandwidth() / 2} x2={shareX(c)! + shareX.bandwidth() / 2} y1={760.7} y2={763.5} stroke="#333" strokeWidth={0.8} />
      ))}
      <Txt x={656.7} y={774} size={10.5} anchor="middle">cephalopod-</Txt>
      <Txt x={656.7} y={786} size={10.5} anchor="middle">specific</Txt>
      <Txt x={710} y={774} size={10.5} anchor="middle">metazoan</Txt>
      <Txt x={770.5} y={774} size={10.5} anchor="middle">non-syntenic</Txt>
      <Txt x={606} y={563} size={13.6} anchor="middle" rotate={-90} fill="#222">Percentage</Txt>
      <Txt x={711.7} y={802} size={12} anchor="middle">Synteny</Txt>
    </g>
  );
};

export default function App() {
  return (
    <svg
      width={800}
      height={824}
      viewBox="0 0 800 824"
      fontFamily={FONT}
      style={{ position: "absolute", left: 0, top: 0, background: "#fff" }}
    >
      <PanelA />
      <PanelB />
      <PanelC />
      <PanelD />
      <PanelE />
    </svg>
  );
}
